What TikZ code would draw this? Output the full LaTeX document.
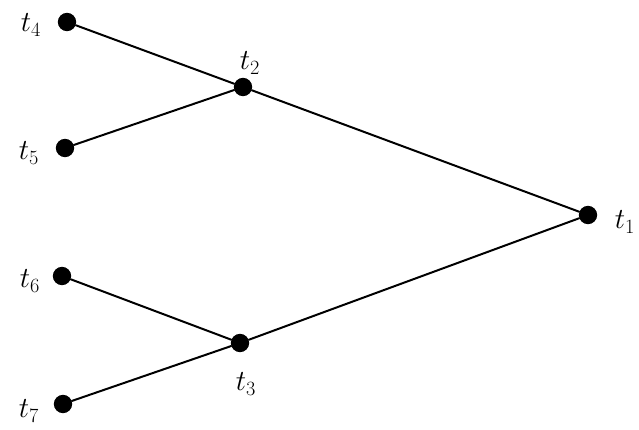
\documentclass[tikz,border=0pt]{standalone}
\usepackage{tikz}
\tikzset{
  vertex/.style={circle, fill=black, inner sep=0pt, minimum size=0.55cm},
  vlabel/.style={font=\fontsize{23}{27}\selectfont, inner sep=0pt},
  edge/.style={line width=1.7pt, draw=black, line cap=round},
}
\begin{document}
\begin{tikzpicture}[x=0.03cm, y=-0.03cm]
\useasboundingbox (0,0) rectangle (639,430);
\node[vertex] (t1) at (588,215) {};
\node[vertex] (t2) at (243,87) {};
\node[vertex] (t3) at (240,343) {};
\node[vertex] (t4) at (67,22) {};
\node[vertex] (t5) at (65,148) {};
\node[vertex] (t6) at (62,276) {};
\node[vertex] (t7) at (63,404) {};
\draw[edge] (t4) -- (t2);
\draw[edge] (t5) -- (t2);
\draw[edge] (t2) -- (t1);
\draw[edge] (t6) -- (t3);
\draw[edge] (t7) -- (t3);
\draw[edge] (t3) -- (t1);
\node[vlabel] (l1) at (625,222) {$t_1$};
\node[vlabel] (l2) at (250,63) {$t_2$};
\node[vlabel] (l3) at (246,384) {$t_3$};
\node[vlabel] (l4) at (31,25) {$t_4$};
\node[vlabel] (l5) at (29,153) {$t_5$};
\node[vlabel] (l6) at (30,281) {$t_6$};
\node[vlabel] (l7) at (29,411) {$t_7$};
\end{tikzpicture}
\end{document}
